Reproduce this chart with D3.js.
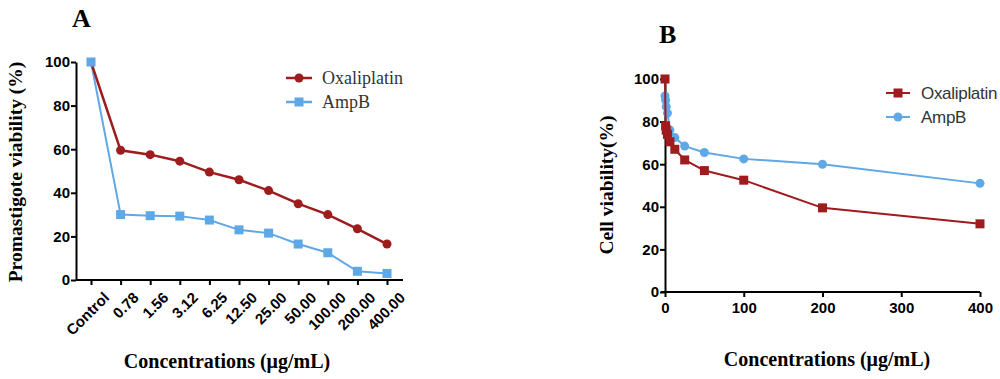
<!DOCTYPE html>
<html>
<head>
<meta charset="utf-8">
<script src="https://cdn.jsdelivr.net/npm/d3@7"></script>
<style>
  body { margin: 0; background: #fff; }
  svg { display: block; }
  .tick text { font-family: "Liberation Sans", Arial, sans-serif; font-weight: bold; }
</style>
</head>
<body>
<div id="wrapper"></div>
<script>
// panel A data
const catsA = ["Control", "0.78", "1.56", "3.12", "6.25", "12.50", "25.00", "50.00", "100.00", "200.00", "400.00"]
const oxaA = [100, 59.5, 57.5, 54.5, 49.5, 46, 41, 35, 30, 23.5, 16.5]
const ampA = [100, 30, 29.5, 29.3, 27.5, 23, 21.5, 16.5, 12.5, 4, 3]
const yTicks = [0, 20, 40, 60, 80, 100]

// panel B data
const concB = [0, 0.78, 1.56, 3.12, 6.25, 12.5, 25, 50, 100, 200, 400]
const oxaB = [100, 78, 76, 74, 70.5, 67, 62, 57, 52.5, 39.5, 32]
const ampB = [92, 90, 87, 84, 76, 72.5, 68.5, 65.5, 62.5, 60, 51]
const xTicksB = [0, 100, 200, 300, 400]

const series = ["Oxaliplatin", "AmpB"]
const RED = "#9e1b1e"
const BLUE = "#5fa8e6"

const svg = d3.select("#wrapper")
  .append("svg")
    .attr("width", 1000)
    .attr("height", 379)

const serif = "'Liberation Serif', 'Times New Roman', serif"
const sans = "'Liberation Sans', Arial, sans-serif"

function marker(g, shape, color, x, y) {
  if (shape === "circle") {
    g.append("circle").attr("cx", x).attr("cy", y).attr("r", 4.5).attr("fill", color)
  } else {
    g.append("rect").attr("x", x - 4.5).attr("y", y - 4.5)
      .attr("width", 9).attr("height", 9).attr("fill", color)
  }
}

// ---------- Panel A ----------
{
  const x = d3.scalePoint().domain(catsA).range([91, 387])
  const y = d3.scaleLinear().domain([0, 100]).range([280, 62])
  const g = svg.append("g")

  const xAxis = g.append("g")
    .attr("transform", "translate(0,280)")
    .call(d3.axisBottom(x).tickSizeOuter(0).tickSize(5))
  xAxis.select(".domain").attr("d", "M76,0H403").attr("stroke-width", 2)
  xAxis.selectAll(".tick line").attr("stroke-width", 2)
  xAxis.selectAll(".tick text")
    .attr("font-size", 15)
    .attr("text-anchor", "end")
    .attr("transform", "translate(5,5) rotate(-45)")
    .attr("dy", "0.75em")

  const yAxis = g.append("g")
    .attr("transform", "translate(76,0)")
    .call(d3.axisLeft(y).tickValues(yTicks).tickSize(5).tickSizeOuter(0))
  yAxis.select(".domain").attr("stroke-width", 2)
  yAxis.selectAll(".tick line").attr("stroke-width", 2)
  yAxis.selectAll(".tick text").attr("font-size", 15).attr("x", -6)

  const line = d3.line().x((d, i) => x(catsA[i])).y(d => y(d))

  g.append("path").attr("d", line(ampA)).attr("fill", "none")
    .attr("stroke", BLUE).attr("stroke-width", 2)
  ampA.forEach((d, i) => { if (i > 0) marker(g, "rect", BLUE, x(catsA[i]), y(d)) })

  g.append("path").attr("d", line(oxaA)).attr("fill", "none")
    .attr("stroke", RED).attr("stroke-width", 2.5)
  oxaA.forEach((d, i) => { if (i > 0) marker(g, "circle", RED, x(catsA[i]), y(d)) })
  // control square sits on top of both lines
  marker(g, "rect", BLUE, x(catsA[0]), y(ampA[0]))

  // legend
  const lg = [[RED, "circle", 78], [BLUE, "rect", 102]]
  lg.forEach(([c, s, ly], i) => {
    g.append("line").attr("x1", 286).attr("x2", 312).attr("y1", ly).attr("y2", ly)
      .attr("stroke", c).attr("stroke-width", 2.5)
    marker(g, s, c, 299, ly)
    g.append("text").attr("x", 322).attr("y", ly + 6)
      .attr("font-family", serif).attr("font-size", 18).attr("fill", "#333")
      .text(series[i])
  })

  g.append("text").attr("x", 72).attr("y", 27)
    .attr("font-family", serif).attr("font-weight", "bold").attr("font-size", 26)
    .text("A")

  g.append("text")
    .attr("transform", "translate(22,172) rotate(-90)")
    .attr("text-anchor", "middle")
    .attr("font-family", serif).attr("font-weight", "bold").attr("font-size", 19.5)
    .text("Promastigote viability (%)")

  g.append("text").attr("x", 227).attr("y", 368)
    .attr("text-anchor", "middle")
    .attr("font-family", serif).attr("font-weight", "bold").attr("font-size", 20)
    .text("Concentrations (μg/mL)")
}

// ---------- Panel B ----------
{
  const x = d3.scaleLinear().domain([0, 400]).range([665, 980])
  const y = d3.scaleLinear().domain([0, 100]).range([292, 79])
  const g = svg.append("g")

  const xAxis = g.append("g")
    .attr("transform", "translate(0,292)")
    .call(d3.axisBottom(x).tickValues(xTicksB).tickSize(5).tickSizeOuter(0))
  xAxis.select(".domain").attr("d", "M661,0H980").attr("stroke-width", 2)
  xAxis.selectAll(".tick line").attr("stroke-width", 2)
  xAxis.selectAll(".tick text").attr("font-size", 15).attr("y", 10)

  const yAxis = g.append("g")
    .attr("transform", "translate(665,0)")
    .call(d3.axisLeft(y).tickValues(yTicks).tickSize(5).tickSizeOuter(0))
  yAxis.select(".domain").attr("stroke-width", 2)
  yAxis.selectAll(".tick line").attr("stroke-width", 2)
  yAxis.selectAll(".tick text").attr("font-size", 15).attr("x", -6)

  const line = d3.line().x((d, i) => x(concB[i])).y(d => y(d))

  g.append("path").attr("d", line(ampB)).attr("fill", "none")
    .attr("stroke", BLUE).attr("stroke-width", 2)
  ampB.forEach((d, i) => marker(g, "circle", BLUE, x(concB[i]), y(d)))

  g.append("path").attr("d", line(oxaB)).attr("fill", "none")
    .attr("stroke", RED).attr("stroke-width", 2)
  oxaB.forEach((d, i) => marker(g, "rect", RED, x(concB[i]), y(d)))

  const lg = [[RED, "rect", 93], [BLUE, "circle", 117]]
  lg.forEach(([c, s, ly], i) => {
    g.append("line").attr("x1", 886).attr("x2", 910).attr("y1", ly).attr("y2", ly)
      .attr("stroke", c).attr("stroke-width", 2)
    marker(g, s, c, 898, ly)
    g.append("text").attr("x", 921).attr("y", ly + 6)
      .attr("font-family", sans).attr("font-size", 17).attr("fill", "#333")
      .attr("letter-spacing", -0.3)
      .text(series[i])
  })

  g.append("text").attr("x", 659).attr("y", 43)
    .attr("font-family", serif).attr("font-weight", "bold").attr("font-size", 26)
    .text("B")

  g.append("text")
    .attr("transform", "translate(613,185) rotate(-90)")
    .attr("text-anchor", "middle")
    .attr("font-family", serif).attr("font-weight", "bold").attr("font-size", 19.5)
    .text("Cell viability(%)")

  g.append("text").attr("x", 827).attr("y", 366)
    .attr("text-anchor", "middle")
    .attr("font-family", serif).attr("font-weight", "bold").attr("font-size", 20)
    .text("Concentrations (μg/mL)")
}
</script>
</body>
</html>
